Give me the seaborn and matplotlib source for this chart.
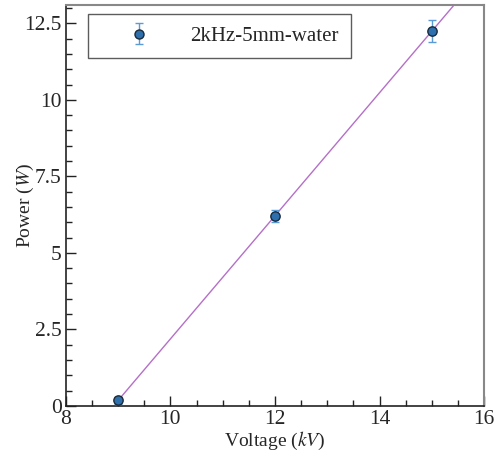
import numpy as np
import pandas as pd
import matplotlib
matplotlib.use("Agg")
import matplotlib.pyplot as plt
import seaborn as sns
from matplotlib.ticker import MultipleLocator

voltage = [9, 12, 15]
power = [0.18, 6.2, 12.25]
power_err = [0.12, 0.2, 0.35]
series_label = "2kHz-5mm-water"

sns.set_theme(style="white")
plt.rcParams["font.family"] = ["Liberation Serif", "DejaVu Serif"]
plt.rcParams["mathtext.fontset"] = "stix"

df = pd.DataFrame({"voltage": voltage, "power": power, "err": power_err})

fig = plt.figure(figsize=(4.95, 4.57), dpi=100)
ax = fig.add_axes([0.133, 0.112, 0.845, 0.877])

# least-squares linear fit through the measurements
slope, intercept = np.polyfit(df["voltage"], df["power"], 1)
fx = np.linspace(df["voltage"].min(), 16, 50)
sns.lineplot(x=fx, y=slope * fx + intercept, ax=ax, color="#b56fc8", lw=1.0, zorder=2)

ax.errorbar(df["voltage"], df["power"], yerr=df["err"], fmt="none",
            ecolor="#5b9bd5", elinewidth=1.0, capsize=3, capthick=1.0, zorder=3)
sns.scatterplot(data=df, x="voltage", y="power", ax=ax, s=45, color="#2e6fae",
                edgecolor="#1a2a3a", linewidth=1.0, zorder=4, legend=False)

# legend proxy: marker with error bar, placed outside the visible range
h = ax.errorbar([100], [100], yerr=[1], fmt="o", color="#2e6fae", mec="#1a2a3a", ms=6.5,
                ecolor="#5b9bd5", capsize=3, capthick=1.0, elinewidth=1.0)
leg = ax.legend([h], [series_label], loc="upper left", bbox_to_anchor=(0.053, 0.978),
                borderaxespad=0, fontsize=15, frameon=True, fancybox=False,
                edgecolor="#333333", borderpad=0.6, handlelength=3.7, handletextpad=0.6)
leg.get_frame().set_linewidth(1.0)

ax.set_xlim(8, 16)
ax.set_ylim(0, 13.1)
ax.xaxis.set_major_locator(MultipleLocator(2))
ax.xaxis.set_minor_locator(MultipleLocator(0.5))
ax.yaxis.set_minor_locator(MultipleLocator(0.5))
ax.set_yticks([0, 2.5, 5, 7.5, 10, 12.5])
ax.set_yticklabels(["0", "2.5", "5", "7.5", "10", "12.5"])
ax.tick_params(axis="both", which="major", direction="in", length=7, width=1.0,
               labelsize=15.5, color="#222222", bottom=True, left=True,
               top=False, right=False, pad=3)
ax.tick_params(axis="both", which="minor", direction="in", length=4, width=1.0,
               color="#222222", bottom=True, left=True, top=False, right=False)

ax.set_xlabel("Voltage ($kV$)", fontsize=14)
ax.set_ylabel("Power ($W$)", fontsize=14)
ax.yaxis.set_label_coords(-0.071, 0.5)
ax.xaxis.set_label_coords(0.5, -0.06)

for side in ["left", "bottom"]:
    ax.spines[side].set_color("#222222")
    ax.spines[side].set_linewidth(1.2)
for side in ["right", "top"]:
    ax.spines[side].set_color("#888888")
    ax.spines[side].set_linewidth(1.5)

fig.savefig("out.png", dpi=100)
